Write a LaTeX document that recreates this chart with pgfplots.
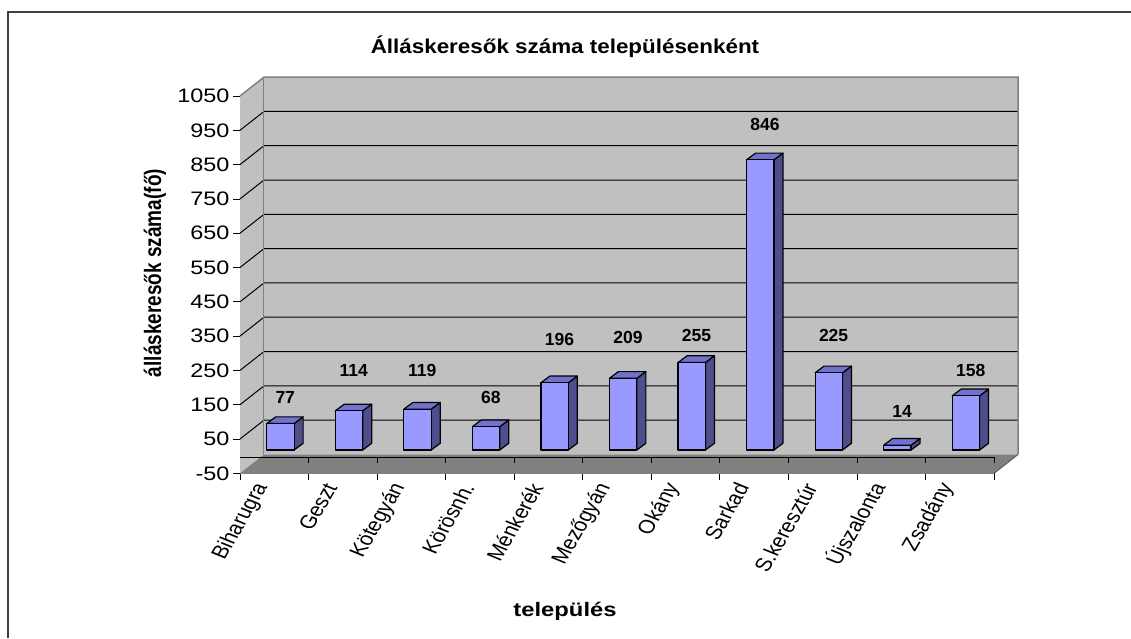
\documentclass[border=0pt]{standalone}
\usepackage{pgfplots}
\pgfplotsset{compat=1.18}
\usepackage{pgfplotstable}
\usepackage{fontspec}
\setmainfont{Liberation Sans}
\newfontfamily\wide{Liberation Sans}[FakeStretch=1.2]
\definecolor{wall}{HTML}{C0C0C0}
\definecolor{floorc}{HTML}{808080}
\definecolor{barfront}{HTML}{9999FF}
\definecolor{bartop}{HTML}{7171CE}
\definecolor{barside}{HTML}{4E4E8E}
\definecolor{edge}{HTML}{808080}
\definecolor{frame}{HTML}{404040}

\pgfplotstableread{
i v ly
0 77 172
1 114 249
2 119 249
3 68 170
4 196 341
5 209 346
6 255 351
7 846 966
8 225 351
9 14 130
10 158 251
}\data

\newcommand\xlab[2]{\node[font=\fontsize{19}{20}\selectfont, xshift=-10pt, yshift=-8pt, xscale=1.2, rotate=64, anchor=east] at (#1,-50) {#2};}

\begin{document}
\begin{tikzpicture}
\useasboundingbox (0pt,0pt) rectangle (1131pt,638pt);
\fill[white] (0pt,0pt) rectangle (1131pt,638pt);
\draw[line width=2pt, frame] (7.5pt,0pt) -- (7.5pt,626.3pt) -- (1131pt,626.3pt);
\node[font=\bfseries\fontsize{20}{22}\selectfont, xscale=1.12] at (565pt,591pt) {Álláskeresők száma településenként};
\node[font=\bfseries\fontsize{19}{20}\selectfont, xscale=1.25, rotate=90] at (155pt,365pt) {álláskeresők száma(fő)};
\node[font=\bfseries\fontsize{19.5}{20}\selectfont, xscale=1.22] at (565pt,27pt) {település};
\begin{axis}[
  at={(240pt,164.7pt)}, anchor=south west, scale only axis,
  width=754pt, height=377.3pt,
  xmin=0, xmax=11, ymin=-50, ymax=1050,
  clip=false,
  axis x line*=bottom, axis y line*=left,
  axis line style={-, draw=edge, line width=1pt},
  ytick={-50,50,150,250,350,450,550,650,750,850,950,1050},
  yticklabels={-50,50,150,250,350,450,550,650,750,850,950,1050},
  xtick={0,1,2,3,4,5,6,7,8,9,10,11},
  xticklabels={},
  tick align=outside, major tick length=7pt,
  tick style={black, line width=0.8pt},
  yticklabel style={font=\wide\fontsize{19.5}{20}\selectfont, anchor=east},
]
% walls
\fill[wall] (0,-50) -- (0.35,5) -- (0.35,1105) -- (0,1050) -- cycle;
\fill[wall] (0.35,5) rectangle (11.35,1105);
\pgfplotsinvokeforeach{50,150,250,350,450,550,650,750,850,950}{
  \draw[black, line width=1pt] (0,#1) -- (0.35,{#1+55}) -- (11.35,{#1+55});
}
\draw[edge, line width=1.5pt] (0,1050) -- (0.35,1105) -- (11.35,1105) -- (11.35,5);
\draw[edge, line width=1pt] (0.35,5) -- (0.35,1105);
% floor
\fill[floorc] (0,-50) -- (11,-50) -- (11.35,5) -- (0.35,5) -- cycle;
\draw[edge!70!black, line width=1pt] (11,-50) -- (11.35,5);
\draw[black, line width=1pt] (0,-3.4) -- (11,-3.4);
\pgfplotsinvokeforeach{1,...,11}{
  \draw[black, line width=0.8pt] (#1,-3.4) -- (#1,-21);
}
% bars
\pgfplotsinvokeforeach{0,...,10}{
  \pgfplotstablegetelem{#1}{v}\of\data
  \let\val\pgfplotsretval
  \pgfmathsetmacro\xa{#1+0.39}
  \pgfmathsetmacro\xb{#1+0.79}
  \pgfmathsetmacro\xc{#1+0.39+0.131}
  \pgfmathsetmacro\xd{#1+0.79+0.131}
  \pgfmathsetmacro\ya{18}
  \pgfmathsetmacro\yb{18+\val}
  \pgfmathsetmacro\yc{18+19.5}
  \pgfmathsetmacro\yd{18+19.5+\val}
  \edef\temp{%
    \noexpand\addplot[fill=barside, draw=black, line width=1.2pt, line join=round] coordinates {(\xb,\ya) (\xd,\yc) (\xd,\yd) (\xb,\yb)} -- cycle;
    \noexpand\addplot[fill=bartop, draw=black, line width=1.2pt, line join=round] coordinates {(\xa,\yb) (\xb,\yb) (\xd,\yd) (\xc,\yd)} -- cycle;
    \noexpand\addplot[fill=barfront, draw=black, line width=1.2pt, line join=round] coordinates {(\xa,\ya) (\xb,\ya) (\xb,\yb) (\xa,\yb)} -- cycle;
  }%
  \temp
}
% value labels
\addplot[draw=none, mark=none, nodes near coords, point meta=explicit symbolic,
  nodes near coords align={center},
  every node near coord/.append style={font=\bfseries\fontsize{17.5}{18}\selectfont, anchor=center, black}]
  table[x expr=\thisrow{i}+0.66, y=ly, meta=v] {\data};
% category labels
\xlab{0.5}{Biharugra}
\xlab{1.5}{Geszt}
\xlab{2.5}{Kötegyán}
\xlab{3.5}{Körösnh.}
\xlab{4.5}{Ménkerék}
\xlab{5.5}{Mezőgyán}
\xlab{6.5}{Okány}
\xlab{7.5}{Sarkad}
\xlab{8.5}{S.keresztúr}
\xlab{9.5}{Újszalonta}
\xlab{10.5}{Zsadány}
\end{axis}
\end{tikzpicture}
\end{document}
